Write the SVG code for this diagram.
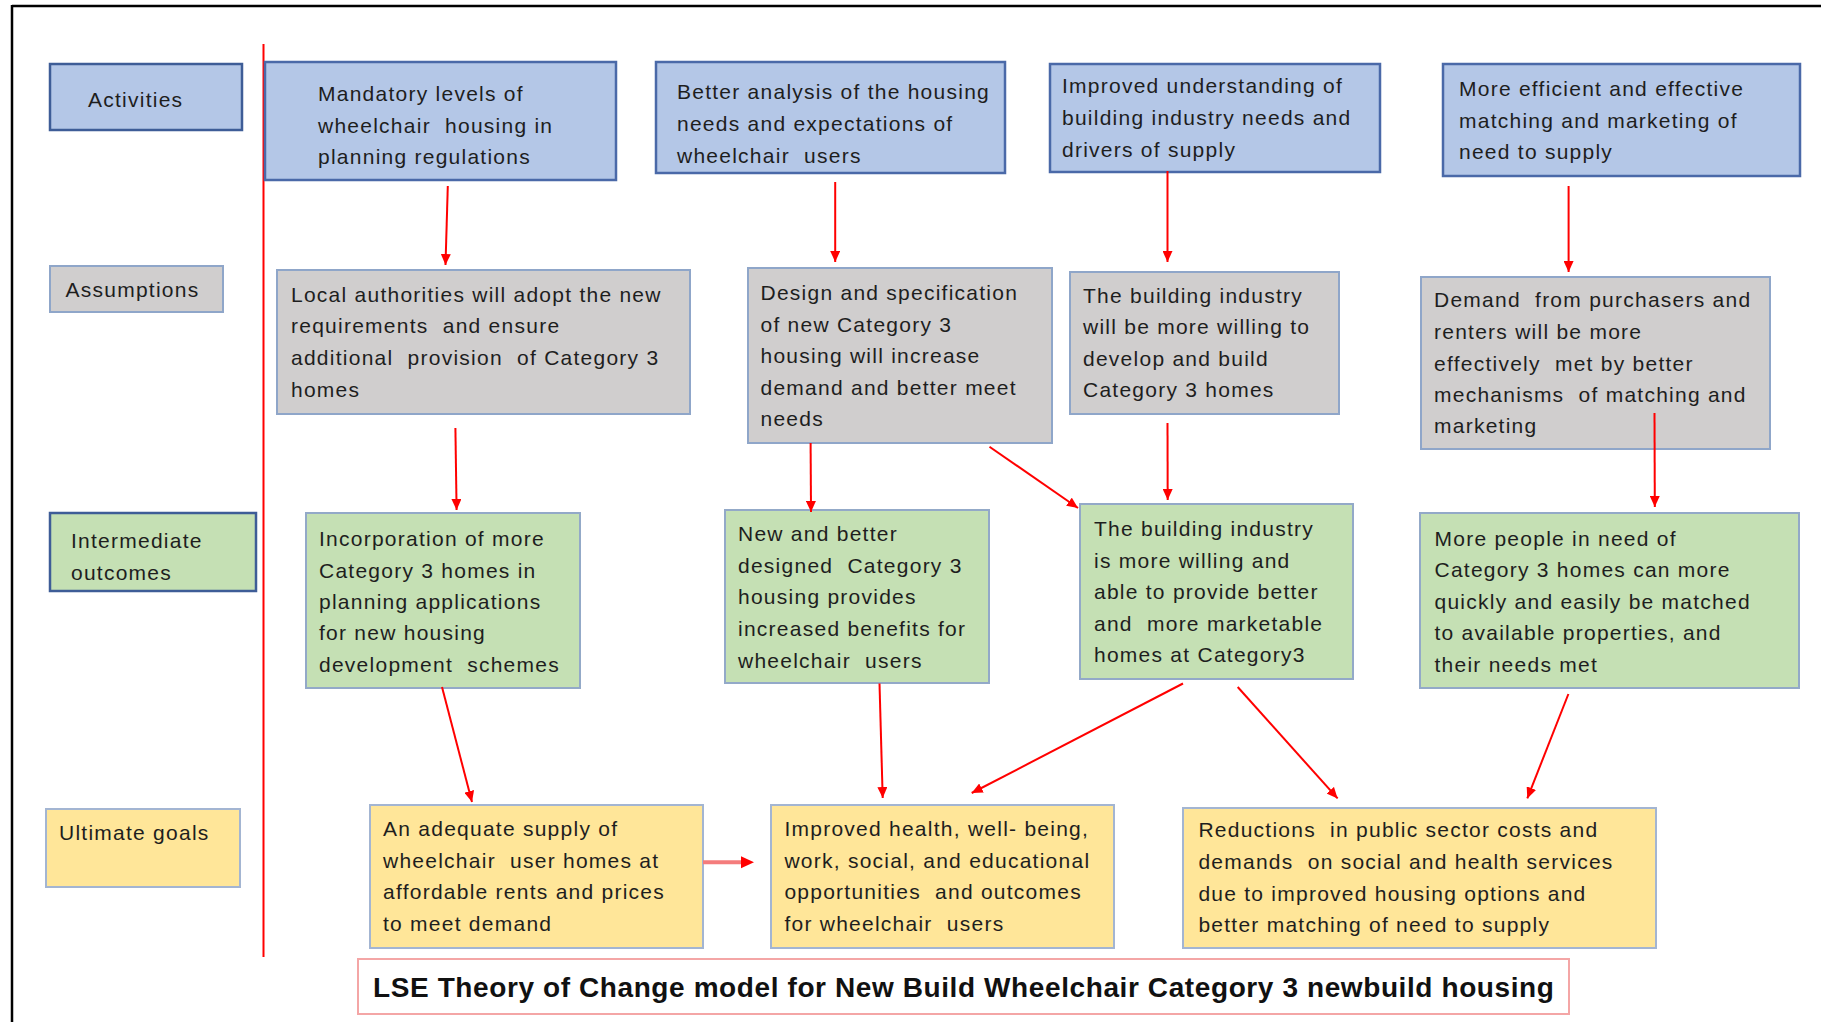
<svg xmlns="http://www.w3.org/2000/svg" width="1821" height="1022" viewBox="0 0 1821 1022">
<defs>
<style>
.t{font-family:"Liberation Sans",Arial,sans-serif;font-size:21px;letter-spacing:1.25px;fill:#1E1E1E;white-space:pre}
.title{font-family:"Liberation Sans",Arial,sans-serif;font-size:28px;font-weight:bold;letter-spacing:0.6px;fill:#111}
.blue{fill:#B4C7E7;stroke:#4A69A8;stroke-width:2.5}
.gray{fill:#D0CECE;stroke:#8FA6C9;stroke-width:2}
.green{fill:#C5E0B4;stroke:#93A9C8;stroke-width:2}
.yellow{fill:#FFE699;stroke:#A3B5D2;stroke-width:2}
.lbl{stroke:#3E5D97;stroke-width:2.5}
.arr{stroke:#FF0000;stroke-width:2;fill:none;marker-end:url(#ah)}
</style>
<marker id="ah" markerUnits="userSpaceOnUse" markerWidth="12" markerHeight="10" refX="11" refY="5" orient="auto">
<path d="M0,0 L11,5 L0,10 z" fill="#FF0000"/>
</marker>
</defs>
<rect width="1821" height="1022" fill="#FFFFFF"/>
<g id="frame">
<line x1="12" y1="6" x2="1821" y2="6" stroke="#000" stroke-width="2.5"/>
<line x1="12" y1="5" x2="12" y2="1022" stroke="#000" stroke-width="2.5"/>
<line x1="263.5" y1="44" x2="263.5" y2="957" stroke="#FF0000" stroke-width="2"/>
</g>
<g id="label-activities"><rect class="blue lbl" x="50" y="64" width="192" height="66"/><text class="t" x="88" y="107">Activities</text></g>
<g id="label-assumptions"><rect class="gray" x="50" y="266" width="173" height="46"/><text class="t" x="65.5" y="297">Assumptions</text></g>
<g id="label-intermediate"><rect class="green lbl" x="50" y="513" width="206" height="78"/><text class="t" x="71" y="548">Intermediate</text><text class="t" x="71" y="580">outcomes</text></g>
<g id="label-ultimate"><rect class="yellow" x="46" y="809" width="194" height="78"/><text class="t" x="59" y="840">Ultimate goals</text></g>

<g id="a1"><rect class="blue" x="265" y="62" width="351" height="118"/><text class="t" x="318" y="101">Mandatory levels of</text><text class="t" x="318" y="132.7">wheelchair  housing in</text><text class="t" x="318" y="164.3">planning regulations</text></g>
<g id="a2"><rect class="blue" x="656" y="62" width="349" height="111"/><text class="t" x="677" y="99.3">Better analysis of the housing</text><text class="t" x="677" y="131">needs and expectations of</text><text class="t" x="677" y="162.7">wheelchair  users</text></g>
<g id="a3"><rect class="blue" x="1050" y="64" width="330" height="108"/><text class="t" x="1062" y="93.3">Improved understanding of</text><text class="t" x="1062" y="125">building industry needs and</text><text class="t" x="1062" y="156.7">drivers of supply</text></g>
<g id="a4"><rect class="blue" x="1443" y="64" width="357" height="112"/><text class="t" x="1459" y="96">More efficient and effective</text><text class="t" x="1459" y="127.7">matching and marketing of</text><text class="t" x="1459" y="159.3">need to supply</text></g>

<g id="s1"><rect class="gray" x="277" y="270" width="413" height="144"/><text class="t" x="291" y="301.7">Local authorities will adopt the new</text><text class="t" x="291" y="333.3">requirements  and ensure</text><text class="t" x="291" y="365">additional  provision  of Category 3</text><text class="t" x="291" y="396.7">homes</text></g>
<g id="s2"><rect class="gray" x="748" y="268" width="304" height="175"/><text class="t" x="760.5" y="300">Design and specification</text><text class="t" x="760.5" y="331.7">of new Category 3</text><text class="t" x="760.5" y="363.3">housing will increase</text><text class="t" x="760.5" y="395">demand and better meet</text><text class="t" x="760.5" y="426">needs</text></g>
<g id="s3"><rect class="gray" x="1070" y="272" width="269" height="142"/><text class="t" x="1083" y="303.3">The building industry</text><text class="t" x="1083" y="334.3">will be more willing to</text><text class="t" x="1083" y="366">develop and build</text><text class="t" x="1083" y="397.3">Category 3 homes</text></g>
<g id="s4"><rect class="gray" x="1421" y="277" width="349" height="172"/><text class="t" x="1434" y="307.3">Demand  from purchasers and</text><text class="t" x="1434" y="339">renters will be more</text><text class="t" x="1434" y="370.7">effectively  met by better</text><text class="t" x="1434" y="402.3">mechanisms  of matching and</text><text class="t" x="1434" y="433.3">marketing</text></g>

<g id="i1"><rect class="green" x="306" y="513" width="274" height="175"/><text class="t" x="319" y="545.6">Incorporation of more</text><text class="t" x="319" y="577.7">Category 3 homes in</text><text class="t" x="319" y="608.7">planning applications</text><text class="t" x="319" y="640.4">for new housing</text><text class="t" x="319" y="671.5">development  schemes</text></g>
<g id="i2"><rect class="green" x="725" y="510" width="264" height="173"/><text class="t" x="738" y="541.2">New and better</text><text class="t" x="738" y="573">designed  Category 3</text><text class="t" x="738" y="604">housing provides</text><text class="t" x="738" y="636">increased benefits for</text><text class="t" x="738" y="667.8">wheelchair  users</text></g>
<g id="i3"><rect class="green" x="1080" y="504" width="273" height="175"/><text class="t" x="1094" y="535.7">The building industry</text><text class="t" x="1094" y="567.5">is more willing and</text><text class="t" x="1094" y="598.9">able to provide better</text><text class="t" x="1094" y="630.6">and  more marketable</text><text class="t" x="1094" y="662.3">homes at Category3</text></g>
<g id="i4"><rect class="green" x="1420" y="513" width="379" height="175"/><text class="t" x="1434.5" y="545.6">More people in need of</text><text class="t" x="1434.5" y="577">Category 3 homes can more</text><text class="t" x="1434.5" y="608.7">quickly and easily be matched</text><text class="t" x="1434.5" y="639.7">to available properties, and</text><text class="t" x="1434.5" y="671.5">their needs met</text></g>

<g id="u1"><rect class="yellow" x="370" y="805" width="333" height="143"/><text class="t" x="383" y="836">An adequate supply of</text><text class="t" x="383" y="867.7">wheelchair  user homes at</text><text class="t" x="383" y="898.7">affordable rents and prices</text><text class="t" x="383" y="930.8">to meet demand</text></g>
<g id="u2"><rect class="yellow" x="771" y="805" width="343" height="143"/><text class="t" x="784.4" y="836">Improved health, well- being,</text><text class="t" x="784.4" y="867.7">work, social, and educational</text><text class="t" x="784.4" y="898.7">opportunities  and outcomes</text><text class="t" x="784.4" y="930.8">for wheelchair  users</text></g>
<g id="u3"><rect class="yellow" x="1183" y="808" width="473" height="140"/><text class="t" x="1198.4" y="837.4">Reductions  in public sector costs and</text><text class="t" x="1198.4" y="868.8">demands  on social and health services</text><text class="t" x="1198.4" y="900.6">due to improved housing options and</text><text class="t" x="1198.4" y="932.3">better matching of need to supply</text></g>

<g id="title"><rect x="358" y="959" width="1211" height="55" fill="#FFFFFF" stroke="#F4A6A6" stroke-width="2"/><text class="title" x="373" y="997">LSE Theory of Change model for New Build Wheelchair Category 3 newbuild housing</text></g>

<g id="connectors">
<line class="arr" x1="447.8" y1="186" x2="445.5" y2="265"/>
<line class="arr" x1="835.2" y1="182" x2="835.2" y2="262"/>
<line class="arr" x1="1167.5" y1="171" x2="1167.5" y2="262"/>
<line class="arr" x1="1568.6" y1="186" x2="1568.6" y2="272"/>
<line class="arr" x1="455.4" y1="428" x2="456.6" y2="510"/>
<line class="arr" x1="810.6" y1="443" x2="811" y2="512"/>
<line class="arr" x1="989.5" y1="446.7" x2="1078" y2="508"/>
<line class="arr" x1="1167.5" y1="423" x2="1167.7" y2="500"/>
<line class="arr" x1="1654.5" y1="413" x2="1654.8" y2="507"/>
<line class="arr" x1="442" y1="687" x2="472" y2="802"/>
<line class="arr" x1="879.5" y1="683.5" x2="882.7" y2="798"/>
<line class="arr" x1="1183" y1="683.5" x2="971.7" y2="793"/>
<line class="arr" x1="1237.7" y1="687" x2="1337.6" y2="798.4"/>
<line class="arr" x1="1568.4" y1="694" x2="1527.3" y2="798.4"/>
<line x1="703" y1="862.3" x2="743" y2="862.3" stroke="#F47C7C" stroke-width="4"/>
<path d="M741,856.3 L754,862.3 L741,868.3 z" fill="#FF0000"/>
</g>
</svg>
